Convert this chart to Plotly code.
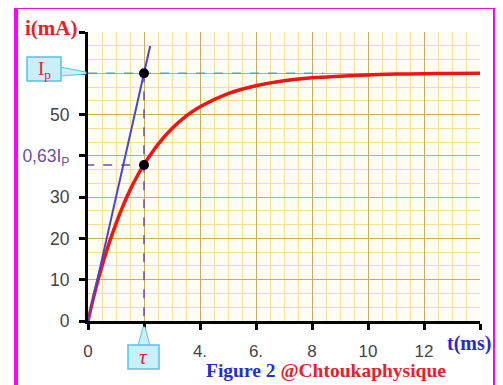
import plotly.graph_objects as go

# ---- data ----
t_ms = [0, 0.25, 0.5, 0.75, 1, 1.25, 1.5, 1.75, 2, 2.5, 3, 3.5, 4, 5, 6, 7, 8, 9, 10, 11, 12, 13, 14]
i_mA = [0, 7.1, 13.3, 18.8, 23.6, 27.9, 31.7, 35.0, 37.9, 42.8, 46.6, 49.6, 51.9, 55.1, 57.0, 58.2, 58.9, 59.3, 59.6, 59.8, 59.9, 59.95, 60.0]
tangent_t = [0, 2.22]
tangent_i = [0, 66.6]
tau = 2
Ip = 60
i_tau = 37.8
x_tickvals = [0, 2, 4, 6, 8, 10, 12, 14]
x_ticktext = ["0", " ", "4.", "6.", "8", "10", "12", " "]
y_tickvals = [0, 10, 20, 30, 40, 50, 60, 70]
y_ticktext = ["0", "10", "20", "30",
              "<span style='color:#6a4fa3'>0,63I<sub>P</sub></span>", "50", " ", " "]

# page has an 8px body margin: figure is 495x377 placed at (8,8)
W, H = 495, 377
L, R, T, B = 80, 23, 24, 64
PW, PH = W - L - R, H - T - B
SX0, SY0 = 88, 321  # screen px of the plot origin


def xp(px):
    return (px - SX0) / PW


def yp(py):
    return (SY0 - py) / PH


fig = go.Figure()

# reference dashed lines
fig.add_trace(go.Scatter(x=[0, 8.4], y=[Ip, Ip], mode="lines",
                         line=dict(color="#38a9d6", width=1.5, dash="dash"), hoverinfo="skip"))
fig.add_trace(go.Scatter(x=[tau, tau], y=[Ip, 0], mode="lines",
                         line=dict(color="#6a4fa3", width=1.5, dash="dash"), hoverinfo="skip"))
fig.add_trace(go.Scatter(x=[-0.1, tau], y=[i_tau, i_tau], mode="lines",
                         line=dict(color="#6a4fa3", width=1.5, dash="dash"), hoverinfo="skip",
                         cliponaxis=False))
# curve
fig.add_trace(go.Scatter(x=t_ms, y=i_mA, mode="lines", line=dict(color="#f01414", width=3.5, shape="spline")))
# tangent
fig.add_trace(go.Scatter(x=tangent_t, y=tangent_i, mode="lines", line=dict(color="#4646d2", width=2)))
# points
fig.add_trace(go.Scatter(x=[tau, tau], y=[Ip, i_tau], mode="markers",
                         marker=dict(color="black", size=10)))

grid_minor = "#f7df96"
grid_major = "#ccae5a"

fig.update_xaxes(range=[0, 14], tickvals=x_tickvals, ticktext=x_ticktext, automargin=False,
                 showgrid=True, gridcolor=grid_major, gridwidth=1.2,
                 minor=dict(dtick=0.5, tick0=0, showgrid=True, gridcolor=grid_minor, gridwidth=1),
                 showline=True, linecolor="black", linewidth=3,
                 ticks="outside", ticklen=6, tickwidth=3, tickcolor="black", ticklabelstandoff=7,
                 tickfont=dict(family="Liberation Sans", size=17, color="#444444"),
                 zeroline=False, fixedrange=True)
fig.update_yaxes(range=[0, 70], tickvals=y_tickvals, ticktext=y_ticktext, automargin=False,
                 showgrid=True, gridcolor=grid_major, gridwidth=1.2,
                 minor=dict(dtick=10 / 3, tick0=0, showgrid=True, gridcolor=grid_minor, gridwidth=1),
                 showline=True, linecolor="black", linewidth=3,
                 ticks="outside", ticklen=6, tickwidth=3, tickcolor="black", ticklabelstandoff=6,
                 tickfont=dict(family="Liberation Sans", size=17.5, color="#444444"),
                 zeroline=False, fixedrange=True)

shapes = []
# magenta frame
shapes.append(dict(type="rect", xref="paper", yref="paper",
                   x0=xp(16), x1=xp(495), y0=yp(395), y1=yp(7),
                   line=dict(color="#ff00ff", width=4), fillcolor="rgba(0,0,0,0)", layer="below"))
box_fill = "#c9eff9"
box_line = "#56c3df"
# Ip callout
shapes.append(dict(type="path", xref="paper", yref="paper",
                   path=f"M {xp(60)},{yp(67)} L {xp(86)},{yp(72)} L {xp(86)},{yp(74)} L {xp(60)},{yp(76)} Z",
                   fillcolor=box_fill, line=dict(color=box_line, width=1)))
shapes.append(dict(type="rect", xref="paper", yref="paper",
                   x0=xp(27), x1=xp(61), y0=yp(81), y1=yp(57),
                   fillcolor=box_fill, line=dict(color=box_line, width=1.5)))
# tau callout
shapes.append(dict(type="path", xref="paper", yref="paper",
                   path=f"M {xp(138)},{yp(346)} L {xp(143)},{yp(327)} L {xp(145)},{yp(327)} L {xp(150)},{yp(346)} Z",
                   fillcolor=box_fill, line=dict(color=box_line, width=1)))
shapes.append(dict(type="rect", xref="paper", yref="paper",
                   x0=xp(128), x1=xp(159), y0=yp(369), y1=yp(345),
                   fillcolor=box_fill, line=dict(color=box_line, width=1.5)))


def txt(px, py, text, size, color=None, family="Liberation Serif"):
    f = dict(family=family, size=size)
    if color:
        f["color"] = color
    return dict(x=xp(px), y=yp(py), xref="paper", yref="paper", showarrow=False,
                xanchor="center", yanchor="middle", text=text, font=f)


annotations = [
    # axis arrows
    dict(x=0, y=70.5, xref="x", yref="y", ax=0, ay=14,
         showarrow=True, arrowhead=2, arrowsize=1.2, arrowwidth=2.5, arrowcolor="black", text=""),
    dict(x=14.05, y=0, xref="x", yref="y", ax=-14, ay=0, showarrow=True, arrowhead=2,
         arrowsize=1.2, arrowwidth=2.5, arrowcolor="black", text=""),
    txt(51, 28, "<b>i(mA)</b>", 21, "#e8202a"),
    txt(469, 343, "<b>t(ms)</b>", 20, "#2a2ac8"),
    txt(44, 70, "I<sub>p</sub>", 19, "#e8202a"),
    txt(143.5, 357, "<i>τ</i>", 21, "#e8202a"),
    txt(326, 370, "<b><span style='color:#1f2fd0'>Figure 2</span> "
                  "<span style='color:#e8202a'>@Chtoukaphysique</span></b>", 19.5),
]

fig.update_layout(width=W, height=H, margin=dict(l=L, r=R, t=T, b=B),
                  paper_bgcolor="white", plot_bgcolor="#fffef4",
                  showlegend=False, shapes=shapes, annotations=annotations)

fig.write_html("out.html")
